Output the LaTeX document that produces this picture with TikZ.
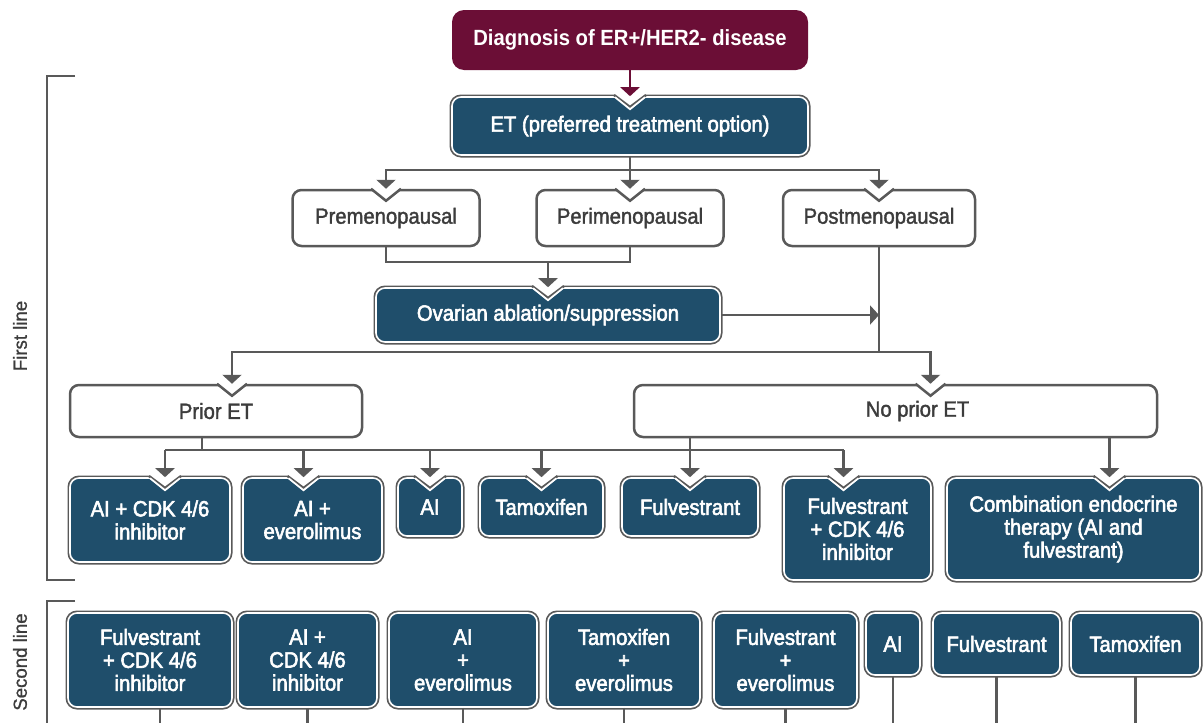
\documentclass[tikz,border=0pt]{standalone}
\usepackage{fontspec}
\setmainfont{Liberation Sans}[FakeStretch=0.92]
\newfontfamily\litefont{Liberation Sans}[FakeStretch=0.92, FakeBold=1.6]
\newfontfamily\navyfont{Liberation Sans}[FakeStretch=0.92, FakeBold=2.6]
\newfontfamily\sidefont{Liberation Sans}[FakeStretch=0.98, FakeBold=1]
\usetikzlibrary{arrows.meta,positioning,calc}
\definecolor{cNavy}{HTML}{1F4E6B}
\definecolor{cWine}{HTML}{6B0E36}
\definecolor{cLine}{HTML}{595959}
\definecolor{cText}{HTML}{3C3C3C}
\tikzset{
  blk/.style   = {rounded corners=9pt, align=center, inner sep=0pt},
  navy/.style  = {blk, fill=cNavy, draw=white, line width=1.6pt, text=white,
                  preaction={draw=cLine, line width=5pt},
                  font=\fontsize{22}{23}\navyfont},
  wine/.style  = {blk, fill=cWine, text=white, rounded corners=12pt,
                  font=\fontsize{22}{23}\selectfont\bfseries},
  lite/.style  = {blk, fill=white, draw=cLine, line width=2.5pt, text=cText,
                  font=\fontsize{22}{23}\litefont},
  link/.style  = {cLine, line width=2.6pt},
  arr/.style   = {link, -{Triangle[width=19pt,length=9pt]}},
  brace/.style = {cLine, line width=2.5pt},
  side/.style  = {rotate=90, text=cText, font=\fontsize{19}{21}\sidefont},
  notchL/.pic = {
    \fill[white] (-17,-3) -- (17,-3) -- (0,11) -- cycle;
    \draw[cLine, line width=2.5pt] (-15,0) -- (0,12) -- (15,0);
  },
  notchD/.pic = {
    \fill[white] (-18,-4) -- (18,-4) -- (0,11) -- cycle;
    \draw[cLine, line width=2.4pt] (-16,-1.2) -- (0,10.8) -- (16,-1.2);
    \draw[white, line width=1.8pt] (-15,1) -- (0,13) -- (15,1);
  },
}

\begin{document}
\begin{tikzpicture}[x=1pt, y=-1pt]
  \useasboundingbox (0,0) rectangle (1204,723);
  % top of the tree
  \node[wine, minimum width=356, minimum height=60] (diag) at (630,40) {Diagnosis of ER+/HER2- disease};
  \node[navy, minimum width=356, minimum height=58] (et) at (630,126) {ET (preferred treatment option)};
  % menopausal status
  \node[lite, minimum width=187, minimum height=56] (pre) at (386,218) {Premenopausal};
  \node[lite, minimum width=187, minimum height=56] (peri) at (630,218) {Perimenopausal};
  \node[lite, minimum width=192, minimum height=56] (post) at (879,218) {Postmenopausal};
  \node[navy, minimum width=344, minimum height=54] (ovar) at (548,315) {Ovarian ablation/suppression};
  % prior therapy
  \node[lite, minimum width=292, minimum height=52] (prior) at (216,411) {Prior ET};
  \node[lite, minimum width=523, minimum height=52] (noprior) at (895.5,411) {\hspace*{44pt}No prior ET};
  % first line options
  \node[navy, minimum width=160, minimum height=84] (aicdk) at (150,520) {AI + CDK 4/6\\inhibitor};
  \node[navy, minimum width=139, minimum height=84] (aieve) at (312.5,520) {AI +\\everolimus};
  \node[navy, minimum width=64, minimum height=58] (ai) at (430,507) {AI};
  \node[navy, minimum width=123, minimum height=58] (tam) at (541.5,507) {Tamoxifen};
  \node[navy, minimum width=136, minimum height=58] (fulv) at (690,507) {Fulvestrant};
  \node[navy, minimum width=147, minimum height=102] (fulvcdk) at (857.5,529) {Fulvestrant\\+ CDK 4/6\\inhibitor};
  \node[navy, minimum width=253, minimum height=102] (combo) at (1073.5,529) {Combination endocrine\\therapy (AI and\\fulvestrant)};
  % second line options
  \node[navy, minimum width=164, minimum height=94] (sfcdk) at (150,660) {Fulvestrant\\+ CDK 4/6\\inhibitor};
  \node[navy, minimum width=139, minimum height=94] (saicdk) at (307.5,660) {AI +\\CDK 4/6\\inhibitor};
  \node[navy, minimum width=148, minimum height=94] (saieve) at (463,660) {AI\\+\\everolimus};
  \node[navy, minimum width=152, minimum height=94] (stameve) at (624,660) {Tamoxifen\\+\\everolimus};
  \node[navy, minimum width=143, minimum height=94] (sfeve) at (785.5,660) {Fulvestrant\\+\\everolimus};
  \node[navy, minimum width=54, minimum height=62] (sai) at (893,644) {AI};
  \node[navy, minimum width=127, minimum height=62] (sfulv) at (996.5,644) {Fulvestrant};
  \node[navy, minimum width=129, minimum height=62] (stam) at (1135.5,644) {Tamoxifen};
  % line brackets
  \draw[brace] (75,76) -- (47,76) -- (47,580) -- (75,580);
  \node[side] (first) at (20,336) {First line};
  \draw[brace] (75,601) -- (47,601) -- (47,723);
  \node[side] (second) at (20,662) {Second line};
  % arrow targets
  \coordinate (j1) at (630,170);
  \coordinate (j2) at (548,262);
  \coordinate (j3) at (879,352);
  \coordinate (bus) at (0,450);
  \coordinate (floor) at (0,723);
  \coordinate (tprior) at ([xshift=16]prior.north);
  \coordinate (tnoprior) at ([xshift=35]noprior.north);
  \coordinate (taicdk) at ([xshift=15]aicdk.north);
  \coordinate (taieve) at ([xshift=-9]aieve.north);
  \coordinate (tai) at (ai.north);
  \coordinate (ttam) at (tam.north);
  \coordinate (tfulv) at (fulv.north);
  \coordinate (tfulvcdk) at ([xshift=-14]fulvcdk.north);
  \coordinate (tcombo) at ([xshift=36]combo.north);
  \foreach \t in {pre.north, peri.north, post.north, tprior, tnoprior}
    \path (\t) pic{notchL};
  \foreach \t in {et.north, ovar.north, taicdk, taieve, tai, ttam, tfulv, tfulvcdk, tcombo}
    \path (\t) pic{notchD};
  % connectors
  \draw[arr, cWine] (diag.south) -- (et.north);
  \draw[link] (et.south) -- (j1);
  \draw[arr] (j1) -| (pre.north);
  \draw[arr] (j1) -- (peri.north);
  \draw[arr] (j1) -| (post.north);
  \draw[link] (pre.south) |- (j2) -| (peri.south);
  \draw[arr] (j2) -- (ovar.north);
  \draw[link] (post.south) -- (j3);
  \draw[arr] (ovar.east) -- (ovar.east -| post.south);
  \draw[arr] (j3) -| (tprior);
  \draw[arr] (j3) -| (tnoprior);
  \draw[link] ([xshift=-14]prior.south) coordinate (pb) -- (pb |- bus);
  \draw[link] (taicdk |- bus) -- (tfulvcdk |- bus);
  \foreach \t in {taicdk, taieve, tai, ttam, tfulvcdk}
    \draw[arr] (\t |- bus) -- (\t);
  \draw[arr] (tfulv |- noprior.south) -- (tfulv);
  \draw[arr] (tcombo |- noprior.south) -- (tcombo);
  % second line stems
  \draw[link] ([xshift=10]sfcdk.south) coordinate (sb) -- (sb |- floor);
  \foreach \n in {saicdk, saieve, stameve, sfeve, sai, sfulv, stam}
    \draw[link] (\n.south) -- (\n.south |- floor);
\end{tikzpicture}
\end{document}
